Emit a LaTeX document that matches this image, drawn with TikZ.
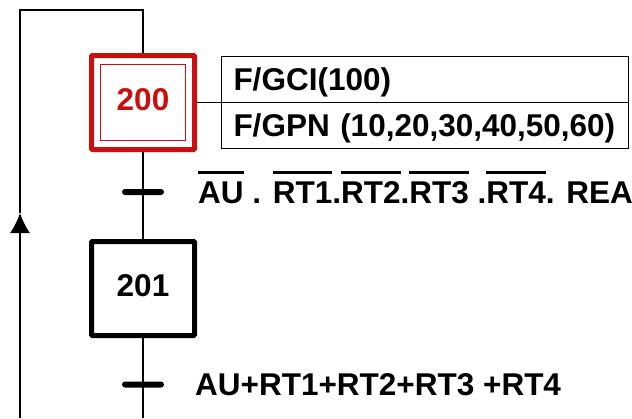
\documentclass[tikz,border=0pt]{standalone}
\usepackage{fontspec}
\setmainfont{Liberation Sans}
\usetikzlibrary{positioning,arrows.meta}
\definecolor{stepred}{RGB}{200,16,16}
\newsavebox\nbarbox
\newcommand\nbar[1]{\sbox\nbarbox{#1}\rlap{\rule[29pt]{\wd\nbarbox}{3pt}}\usebox\nbarbox}
\tikzset{
  grafont/.style={font=\fontsize{31.5}{38}\selectfont\bfseries},
  link/.style={draw=black, line width=1.5pt},
  fwd/.style={link, -{Latex[length=20pt,width=20pt]}},
  stepbox/.style={grafont, rectangle, draw, line width=5pt, minimum width=103pt, minimum height=94pt,
                  text height=22.5pt, text depth=7pt, inner sep=0pt, rounded corners=1pt},
  initstep/.style={stepbox, draw=stepred, text=stepred},
  trans/.style={rectangle, fill=black, rounded corners=3pt, minimum width=42pt, minimum height=6pt,
                inner sep=0pt, outer sep=0pt},
  cond/.style={grafont, inner sep=0pt, text height=22.5pt, text depth=0pt},
  action/.style={grafont, rectangle, link, minimum height=46pt, text width=383pt, inner xsep=12pt,
                 inner ysep=0pt, outer sep=0pt, text height=22.5pt, text depth=0pt, align=left},
}
\begin{document}
\begin{tikzpicture}[x=1pt, y=-1pt]
  \useasboundingbox (0,0) rectangle (632,418);

  % steps and transitions
  \node[initstep] (s200) at (143,102.5) {200};
  \draw[stepred, line width=1.5pt] ([shift={(11.5,11.5)}]s200.north west) rectangle ([shift={(-11.5,-11.5)}]s200.south east);
  \node[trans] (t1) [below=37pt of s200] {};
  \node[cond] (c1) [right=34pt of t1] {\nbar{AU} . \nbar{RT1}.\nbar{RT2}.\nbar{RT3} .\nbar{RT4}. REA};
  \node[stepbox] (s201) [below=44pt of t1] {201};
  \node[trans] (t2) [below=43.5pt of s201] {};
  \node[cond] (c2) [right=31pt of t2] {AU+RT1+RT2+RT3 +RT4};

  % actions of step 200
  \node[action] (act1) [right=24.5pt of s200, anchor=south west] {F/GCI(100)};
  \node[action] (act2) [below=0pt of act1] {F/GPN (10,20,30,40,50,60)};
  \draw[link] (s200.east) -- (act1.south west);

  \coordinate (bot) at (t2 |- 0,418);
  \coordinate (loopbot) at (20,418);
  \coordinate (looptip) at (20,213);
  \coordinate (looptop) at (20,10);

  \draw[link] (s200.south) -- (t1.center) -- (s201.north);
  \draw[link] (s201.south) -- (t2.center) -- (bot);
  \draw[fwd] (loopbot) -- (looptip);
  \draw[link] (looptip) -- (looptop) -| (s200.north);

\end{tikzpicture}
\end{document}
